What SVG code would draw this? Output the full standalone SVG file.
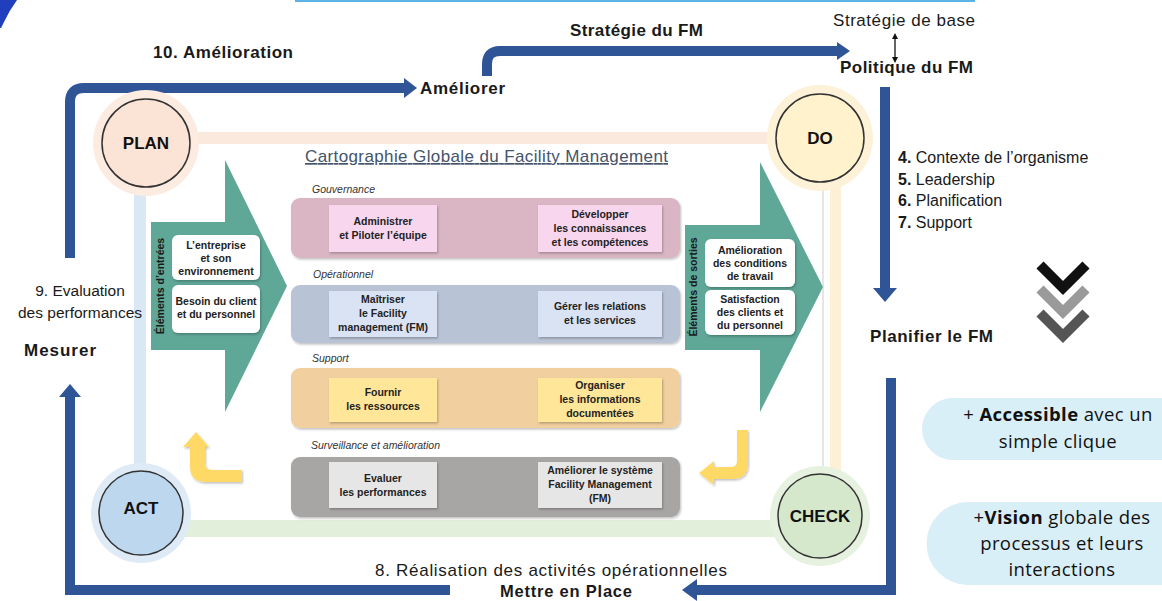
<svg xmlns="http://www.w3.org/2000/svg" width="1162" height="601" viewBox="0 0 1162 601">
<defs>
<style>
.t{font-family:"Liberation Sans",Arial,sans-serif;fill:#1a1a1a}
.b{font-weight:bold}
.lbl{font-family:"Liberation Sans",Arial,sans-serif;font-style:italic;font-size:10.5px;fill:#333}
.bx{font-family:"Liberation Sans",Arial,sans-serif;font-weight:bold;font-size:10.5px;fill:#222;text-anchor:middle}
.blue{fill:none;stroke:#2f5597;stroke-width:10}
.ah{fill:#2f5597}
.pill{font-family:"Open Sans",Roboto,sans-serif;font-size:18.5px;fill:#111;text-anchor:middle;letter-spacing:0.4px}
.ring{stroke:#333;stroke-width:1.5}
.pdca{font-family:"Liberation Sans",Arial,sans-serif;font-weight:bold;font-size:17px;fill:#111;text-anchor:middle}
</style>
<filter id="sh" x="-5%" y="-5%" width="110%" height="120%"><feDropShadow dx="1" dy="1.5" stdDeviation="1" flood-color="#000" flood-opacity="0.25"/></filter>
</defs>
<rect width="1162" height="601" fill="#fff"/>
<path d="M0,0 H17 Q9,11 4,22 L1,28 H0 Z" fill="#1f3fbf"/>
<rect x="295" y="0" width="680" height="2" fill="#5bb3e6"/>

<g id="bands">
<rect x="185" y="132" width="600" height="12" fill="#fbe9dd"/>
<rect x="134" y="185" width="12" height="290" fill="#dae8f5"/>
<rect x="185" y="520" width="600" height="17" fill="#e2efda"/>
<rect x="830" y="180" width="11" height="300" fill="#fdf0d5"/>
<line x1="823" y1="180" x2="823" y2="470" stroke="#ccc" stroke-width="1"/>
</g>

<g id="connectors">
<path class="blue" d="M70,258 V102 Q70,88 84,88 H405"/>
<polygon class="ah" points="404,78 417,88 404,98"/>
<path class="blue" d="M487,76 V64 Q487,51 500,51 H838"/>
<polygon class="ah" points="837,42 850,51 837,60"/>
<path class="blue" d="M885,87 V290"/>
<polygon class="ah" points="873,288 885,302 897,288"/>
<path class="blue" d="M891,378 V590 H697"/>
<polygon class="ah" points="697,579 682,590 697,601"/>
<path class="blue" d="M450,590 H70 V397"/>
<polygon class="ah" points="59,397 70,384 81,397"/>
<line x1="895" y1="36" x2="895" y2="60" stroke="#111" stroke-width="1.3"/>
<polygon points="892,39 895,33 898,39" fill="#111"/>
<polygon points="892,57 895,63 898,57" fill="#111"/>
</g>

<g id="labels">
<text class="t b" x="153" y="58" font-size="17" textLength="140">10. Amélioration</text>
<text class="t b" x="420" y="94" font-size="17" textLength="85">Améliorer</text>
<text class="t b" x="570" y="36" font-size="17" textLength="133">Stratégie du FM</text>
<text class="t" x="833" y="26" font-size="17" fill="#333" textLength="142">Stratégie de base</text>
<text class="t b" x="840" y="73" font-size="17" textLength="133">Politique du FM</text>
<text class="t" x="898" y="163" font-size="16"><tspan font-weight="bold">4.</tspan> Contexte de l’organisme</text>
<text class="t" x="898" y="185" font-size="16"><tspan font-weight="bold">5.</tspan> Leadership</text>
<text class="t" x="898" y="206" font-size="16"><tspan font-weight="bold">6.</tspan> Planification</text>
<text class="t" x="898" y="228" font-size="16"><tspan font-weight="bold">7.</tspan> Support</text>
<text class="t b" x="870" y="342" font-size="17" textLength="123">Planifier le FM</text>
<text class="t" x="80" y="296" font-size="15.5" text-anchor="middle" fill="#333">9. Evaluation</text>
<text class="t" x="80" y="318" font-size="15.5" text-anchor="middle" fill="#333">des performances</text>
<text class="t b" x="24" y="356" font-size="17" textLength="72">Mesurer</text>
<text class="t" x="375" y="576" font-size="17" fill="#333" textLength="352">8. Réalisation des activités opérationnelles</text>
<text class="t b" x="500" y="597" font-size="16.5" textLength="132">Mettre en Place</text>
</g>

<g id="chevrons" fill="none" stroke-width="10" stroke-linejoin="miter">
<polyline points="1040,265 1063,288 1086,265" stroke="#111"/>
<polyline points="1040,289 1063,312 1086,289" stroke="#9a9a9a"/>
<polyline points="1040,313 1063,336 1086,313" stroke="#555"/>
</g>

<g id="plan"><circle cx="146" cy="143" r="53" fill="#fcebe0"/><circle class="ring" cx="146" cy="143" r="44" fill="#fbe4d5"/><text class="pdca" x="146" y="149">PLAN</text></g>
<g id="do"><circle cx="820" cy="138" r="53" fill="#fdf2d8"/><circle class="ring" cx="820" cy="138" r="44" fill="#fff2cc"/><text class="pdca" x="820" y="144">DO</text></g>
<g id="act"><circle cx="141" cy="513" r="50" fill="#deebf7"/><circle class="ring" cx="141" cy="513" r="42" fill="#bdd7ee"/><text class="pdca" x="141" y="514">ACT</text></g>
<g id="check"><circle cx="820" cy="516" r="50" fill="#e6f1df"/><circle class="ring" cx="820" cy="516" r="42" fill="#d5e8cc"/><text class="pdca" x="820" y="522">CHECK</text></g>

<g id="title"><text x="305" y="162" font-family="Liberation Sans, Arial, sans-serif" font-size="17" fill="#44546a" text-decoration="underline" textLength="363">Cartographie Globale du Facility Management</text></g>

<g id="entrees">
<polygon points="151,222 225,222 225,160 287,286 225,412 225,350 151,350" fill="#5fa797"/>
<text class="t b" font-size="10.5" transform="translate(164,286) rotate(-90)" text-anchor="middle" fill="#1a2a2a">Éléments d’entrées</text>
<rect x="172" y="235" width="88" height="45" rx="6" fill="#fff" filter="url(#sh)"/>
<text class="bx" x="216" y="249">L’entreprise</text><text class="bx" x="216" y="262">et son</text><text class="bx" x="216" y="275">environnement</text>
<rect x="172" y="285" width="88" height="48" rx="6" fill="#fff" filter="url(#sh)"/>
<text class="bx" x="216" y="305">Besoin du client</text><text class="bx" x="216" y="318">et du personnel</text>
</g>

<g id="sorties">
<polygon points="685,225 760,225 760,162 823,287 760,412 760,350 685,350" fill="#5fa797"/>
<text class="t b" font-size="10.5" transform="translate(697,287) rotate(-90)" text-anchor="middle" fill="#1a2a2a">Éléments de sorties</text>
<rect x="705" y="239" width="90" height="48" rx="6" fill="#fff" filter="url(#sh)"/>
<text class="bx" x="750" y="254">Amélioration</text><text class="bx" x="750" y="267">des conditions</text><text class="bx" x="750" y="280">de travail</text>
<rect x="705" y="290" width="90" height="45" rx="6" fill="#fff" filter="url(#sh)"/>
<text class="bx" x="750" y="303">Satisfaction</text><text class="bx" x="750" y="316">des clients et</text><text class="bx" x="750" y="329">du personnel</text>
</g>

<g id="gouvernance">
<text class="lbl" x="312" y="193">Gouvernance</text>
<rect x="291" y="198" width="389" height="60" rx="9" fill="#dab5c4" filter="url(#sh)"/>
<rect x="329" y="205" width="108" height="47" fill="#f8d6ee" filter="url(#sh)"/>
<text class="bx" x="383" y="225">Administrer</text><text class="bx" x="383" y="239">et Piloter l’équipe</text>
<rect x="538" y="205" width="124" height="47" fill="#f8d6ee" filter="url(#sh)"/>
<text class="bx" x="600" y="218">Développer</text><text class="bx" x="600" y="232">les connaissances</text><text class="bx" x="600" y="246">et les compétences</text>
</g>

<g id="operationnel">
<text class="lbl" x="313" y="278">Opérationnel</text>
<rect x="291" y="285" width="389" height="58" rx="9" fill="#b8c3d5" filter="url(#sh)"/>
<rect x="329" y="291" width="108" height="46" fill="#dae3f3" filter="url(#sh)"/>
<text class="bx" x="383" y="303">Maîtriser</text><text class="bx" x="383" y="317">le Facility</text><text class="bx" x="383" y="331">management (FM)</text>
<rect x="538" y="291" width="124" height="46" fill="#dae3f3" filter="url(#sh)"/>
<text class="bx" x="600" y="310">Gérer les relations</text><text class="bx" x="600" y="324">et les services</text>
</g>

<g id="support">
<text class="lbl" x="312" y="362">Support</text>
<rect x="291" y="368" width="389" height="60" rx="9" fill="#f1cf9e" filter="url(#sh)"/>
<rect x="329" y="378" width="108" height="44" fill="#ffe699" filter="url(#sh)"/>
<text class="bx" x="383" y="396">Fournir</text><text class="bx" x="383" y="410">les ressources</text>
<rect x="538" y="378" width="124" height="44" fill="#ffe699" filter="url(#sh)"/>
<text class="bx" x="600" y="389">Organiser</text><text class="bx" x="600" y="403">les informations</text><text class="bx" x="600" y="417">documentées</text>
</g>

<g id="surveillance">
<text class="lbl" x="311" y="449">Surveillance et amélioration</text>
<rect x="291" y="457" width="389" height="60" rx="9" fill="#a8a5a5" filter="url(#sh)"/>
<rect x="329" y="462" width="108" height="46" fill="#e7e6e6" filter="url(#sh)"/>
<text class="bx" x="383" y="482">Evaluer</text><text class="bx" x="383" y="496">les performances</text>
<rect x="538" y="462" width="124" height="46" fill="#e7e6e6" filter="url(#sh)"/>
<text class="bx" x="600" y="474">Améliorer le système</text><text class="bx" x="600" y="488">Facility Management</text><text class="bx" x="600" y="502">(FM)</text>
</g>

<g id="yellow-arrows" fill="#ffd966">
<path d="M242,470 H212 Q205,470 205,463 V447 H209 L196,432 L183,447 H190 V466 Q190,482 206,482 H242 Z" filter="url(#sh)"/>
<path d="M737,430 V461 Q737,467 731,467 H714 V461 L699,473 L714,485 V479 H732 Q748,479 748,463 V430 Z" filter="url(#sh)"/>
</g>

<g id="pill-accessible">
<path d="M953,398 H1162 V460 H953 A31,31 0 0 1 953,398 Z" fill="#d9eff7"/>
<text class="pill" x="1058" y="421">+ <tspan font-weight="bold">Accessible</tspan>  avec un</text>
<text class="pill" x="1058" y="448">simple clique</text>
</g>
<g id="pill-vision">
<path d="M968,502 H1162 V585 H968 A41,41 0 0 1 968,502 Z" fill="#d9eff7"/>
<text class="pill" x="1062" y="524">+<tspan font-weight="bold">Vision</tspan> globale des</text>
<text class="pill" x="1062" y="550">processus et leurs</text>
<text class="pill" x="1062" y="576">interactions</text>
</g>
</svg>
